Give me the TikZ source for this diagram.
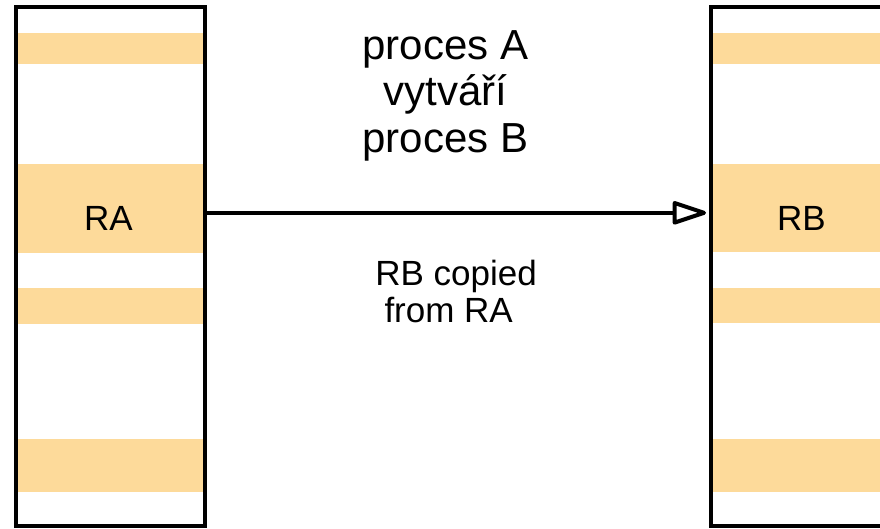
\documentclass[tikz,border=0pt]{standalone}
\usepackage{fontspec}
\setmainfont{Liberation Sans}
\usetikzlibrary{arrows.meta}
\definecolor{regfill}{RGB}{253,218,154}
\begin{document}
\begin{tikzpicture}[x=1pt,y=-1pt,
  membox/.style={draw=black, line width=4pt, minimum width=189pt, minimum height=519.5pt, inner sep=0pt},
  band/.style={fill=regfill},
  caption/.style={font=\fontsize{42}{46.5}\selectfont, align=center, inner sep=0pt},
  note/.style={font=\fontsize{35}{37}\selectfont, align=left, inner sep=0pt},
  reglabel/.style={font=\fontsize{35}{40}\selectfont, inner sep=0pt},
  copyarrow/.style={line width=4pt, -{Triangle[open, length=38pt, width=24pt, line join=round]}}]
\useasboundingbox (0,0) rectangle (880,528);
\clip (0,0) rectangle (880,528);

% register bands of process A
\fill[band] (16,33)  rectangle (205,64);
\fill[band] (16,164) rectangle (205,253);
\fill[band] (16,288) rectangle (205,324);
\fill[band] (16,439) rectangle (205,492);

% register bands of process B
\fill[band] (711,32.5) rectangle (900,63.5);
\fill[band] (711,163.5) rectangle (900,252);
\fill[band] (711,287.5) rectangle (900,323);
\fill[band] (711,438.5) rectangle (900,491.5);

% memory images of the two processes
\node[membox] (procA) at (110.5,266.25) {};
\node[membox] (procB) at (805.5,266.25) {};

\node[reglabel, anchor=base] (ra) at (108.5,230.5) {RA};
\node[reglabel, anchor=base] (rb) at (801.5,230.5) {RB};

% fork: B is created as a copy of A
\coordinate (copyFrom) at (205,212.8);
\coordinate (copyTo) at (706,212.8);
\draw[copyarrow] (copyFrom) -- (copyTo);

\node[caption, anchor=north] (fork) at (445.2,29.9) {proces A\\vytváří\\proces B};
\node[note, anchor=north west] (copied) at (375.2,259.5) {RB copied\\\hspace*{0.26em}from RA};
\end{tikzpicture}
\end{document}
